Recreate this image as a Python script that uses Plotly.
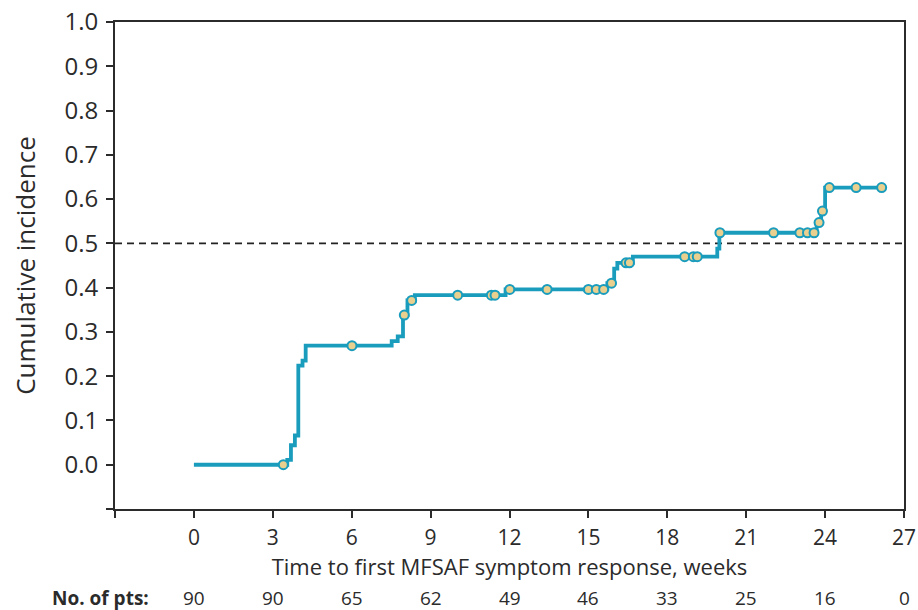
import plotly.graph_objects as go

# Step curve (time in weeks, cumulative incidence after the step)
step_times = [0, 3.55, 3.69, 3.84, 3.97, 4.13, 4.25, 7.52, 7.75, 7.95, 8.12, 8.40,
              11.85, 15.72, 15.98, 16.10, 16.69, 19.90, 19.98, 23.68, 23.85, 24.00]
step_values = [0.0, 0.011, 0.044, 0.066, 0.224, 0.235, 0.269, 0.279, 0.290, 0.338, 0.371, 0.383,
               0.396, 0.410, 0.443, 0.456, 0.470, 0.488, 0.524, 0.547, 0.573, 0.626]
end_time = 26.15

# Censored observations
censor_times = [3.40, 6.01, 8.00, 8.28, 10.03, 11.31, 11.45, 12.01, 13.43, 15.00, 15.30, 15.58,
                15.88, 16.43, 16.56, 18.66, 18.99, 19.14, 20.00, 22.04, 23.04, 23.33, 23.58,
                23.77, 23.90, 24.16, 25.18, 26.15]
censor_values = [0.0, 0.269, 0.338, 0.371, 0.383, 0.383, 0.383, 0.396, 0.396, 0.396, 0.396, 0.396,
                 0.410, 0.456, 0.456, 0.470, 0.470, 0.470, 0.524, 0.524, 0.524, 0.524, 0.524,
                 0.547, 0.573, 0.626, 0.626, 0.626]

# Axis ticks
x_ticks = [-3, 0, 3, 6, 9, 12, 15, 18, 21, 24, 27]
x_ticktext = ["", "0", "3", "6", "9", "12", "15", "18", "21", "24", "27"]
y_ticks = [-0.1, 0.0, 0.1, 0.2, 0.3, 0.4, 0.5, 0.6, 0.7, 0.8, 0.9, 1.0]
y_ticktext = [""] + [f"{v:.1f}" for v in y_ticks[1:]]

# Numbers at risk
risk_times = [0, 3, 6, 9, 12, 15, 18, 21, 24, 27]
risk_counts = [90, 90, 65, 62, 49, 46, 33, 25, 16, 0]

LINE = "#1A9CBD"
FILL = "#E9D08E"
AX = "#2b2b2b"
TXT = "#2b2b2b"
FONT = "Open Sans"

fig = go.Figure()
fig.add_trace(go.Scatter(
    x=step_times + [end_time], y=step_values + [step_values[-1]],
    mode="lines", line=dict(color=LINE, width=3.8, shape="hv"),
    hoverinfo="skip", showlegend=False))
fig.add_trace(go.Scatter(
    x=censor_times, y=censor_values, mode="markers",
    marker=dict(size=9, color=FILL, line=dict(color=LINE, width=2)),
    showlegend=False))

fig.add_shape(type="line", xref="x", yref="y", x0=-3, x1=27, y0=0.5, y1=0.5,
              line=dict(color="#222222", width=1.6, dash="7px,5px"), layer="below")

for t, n in zip(risk_times, risk_counts):
    fig.add_annotation(x=t, y=-0.182, xref="x", yref="paper", text=str(n),
                       showarrow=False, font=dict(family=FONT, size=19, color=TXT),
                       xanchor="center", yanchor="middle")
fig.add_annotation(x=(151 - 115) / 789, y=-0.182, xref="paper", yref="paper",
                   text="<b>No. of pts:</b>",
                   showarrow=False, font=dict(family=FONT, size=19, color=TXT),
                   xanchor="right", yanchor="middle")

fig.update_layout(
    width=918, height=610,
    margin=dict(l=115, r=14, t=22, b=101),
    plot_bgcolor="white", paper_bgcolor="white",
    font=dict(family=FONT, color=TXT),
    xaxis=dict(range=[-3, 27], tickvals=x_ticks, ticktext=x_ticktext, automargin=False,
               showgrid=False, zeroline=False, showline=True, linecolor=AX, linewidth=2,
               mirror=True, ticks="outside", ticklen=7, tickwidth=1.5, tickcolor=AX,
               ticklabelstandoff=2,
               tickfont=dict(family=FONT, size=21, color=TXT),
               title=dict(text="Time to first MFSAF symptom response, weeks",
                          font=dict(family=FONT, size=22, color=TXT), standoff=0)),
    yaxis=dict(range=[-0.1, 1.0], tickvals=y_ticks, ticktext=y_ticktext, automargin=False,
               showgrid=False, zeroline=False, showline=True, linecolor=AX, linewidth=2,
               mirror=True, ticks="outside", ticklen=7, tickwidth=1.5, tickcolor=AX,
               ticklabelstandoff=3,
               tickfont=dict(family=FONT, size=24, color=TXT),
               title=dict(text="Cumulative incidence",
                          font=dict(family=FONT, size=26, color=TXT), standoff=21)),
)

fig.write_html("out.html")
